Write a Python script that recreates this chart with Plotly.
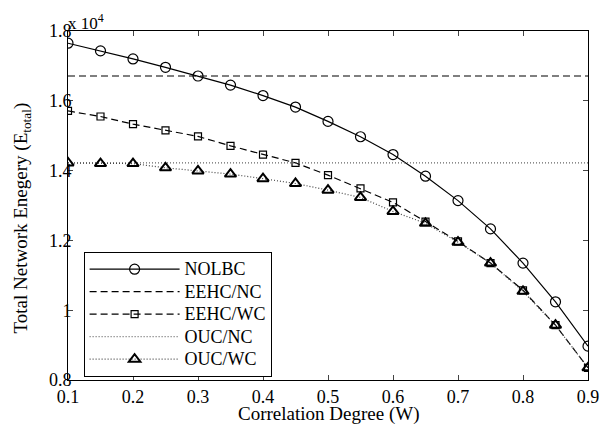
import plotly.graph_objects as go

W = [0.1, 0.15, 0.2, 0.25, 0.3, 0.35, 0.4, 0.45, 0.5, 0.55, 0.6, 0.65, 0.7, 0.75, 0.8, 0.85, 0.9]
nolbc = [17650, 17430, 17200, 16960, 16710, 16450, 16150, 15820, 15410, 14970, 14460, 13840, 13140, 12330, 11350, 10240, 8970]
eehc_nc = [16710] * len(W)
eehc_wc = [15710, 15550, 15330, 15150, 14980, 14710, 14460, 14220, 13870, 13490, 13090, 12540, 11970, 11350, 10570, 9570, 8350]
ouc_nc = [14220] * len(W)
ouc_wc = [14220, 14200, 14200, 14080, 13990, 13900, 13770, 13630, 13440, 13230, 12830, 12490, 11950, 11350, 10540, 9570, 8350]
names = ["NOLBC", "EEHC/NC", "EEHC/WC", "OUC/NC", "OUC/WC"]

y_tickvals = [8000, 10000, 12000, 14000, 16000, 18000]
y_ticktext = ["0.8", "1", "1.2", "1.4", "1.6", "1.8"]
x_tickvals = [0.1, 0.2, 0.3, 0.4, 0.5, 0.6, 0.7, 0.8, 0.9]

FONT = "Times New Roman, Liberation Serif, serif"


def lab(n):
    return '<span style="font-size:18px">' + n + "</span>"


fig = go.Figure()
fig.add_trace(go.Scatter(x=W, y=nolbc, name=lab(names[0]), mode="lines+markers",
                         line=dict(color="black", width=1.2),
                         marker=dict(symbol="circle-open", size=10, color="black", line=dict(width=1.2))))
fig.add_trace(go.Scatter(x=W, y=eehc_nc, name=lab(names[1]), mode="lines",
                         line=dict(color="black", width=1.2, dash="7px,4px")))
fig.add_trace(go.Scatter(x=W, y=eehc_wc, name=lab(names[2]), mode="lines+markers",
                         line=dict(color="black", width=1.2, dash="7px,4px"),
                         marker=dict(symbol="square-open", size=7, color="black", line=dict(width=1.2))))
fig.add_trace(go.Scatter(x=W, y=ouc_nc, name=lab(names[3]), mode="lines",
                         line=dict(color="#666666", width=1.2, dash="1px,2px")))
fig.add_trace(go.Scatter(x=W, y=ouc_wc, name=lab(names[4]), mode="lines+markers",
                         line=dict(color="#444444", width=1.2, dash="1px,2px"),
                         marker=dict(symbol="triangle-up-open", size=10, color="black", line=dict(width=2))))

fig.update_layout(
    width=601, height=424,
    margin=dict(l=68, r=13, t=31, b=44),
    paper_bgcolor="white", plot_bgcolor="white",
    font=dict(family=FONT, size=18, color="black"),
    showlegend=True,
    legend=dict(x=0.03, y=0.367, xanchor="left", yanchor="top",
                bgcolor="white", bordercolor="black", borderwidth=1,
                font=dict(family=FONT, size=15), itemwidth=90,
                tracegroupgap=0),
    xaxis=dict(range=[0.1, 0.9], tickvals=x_tickvals, ticks="inside", ticklen=5,
               showline=True, linecolor="black", linewidth=1, mirror="ticks",
               showgrid=False, zeroline=False, ticklabelstandoff=0, automargin=False,
               tickfont=dict(family=FONT, size=18)),
    yaxis=dict(range=[8000, 18000], tickvals=y_tickvals, ticktext=y_ticktext, ticks="inside", ticklen=5,
               showline=True, linecolor="black", linewidth=1, mirror="ticks",
               showgrid=False, zeroline=False, ticklabelstandoff=-8, automargin=False,
               tickfont=dict(family=FONT, size=18)),
)
fig.add_annotation(text="Correlation Degree (W)", xref="paper", yref="paper", x=0.5, y=-0.097,
                   xanchor="center", yanchor="middle", showarrow=False,
                   font=dict(family=FONT, size=19))
fig.add_annotation(text="Total Network Enegery (E<sub>total</sub>)", xref="paper", yref="paper",
                   x=-0.0885, y=0.4656, xanchor="center", yanchor="middle", textangle=-90,
                   showarrow=False, font=dict(family=FONT, size=19))
fig.add_annotation(text="x 10<sup>4</sup>", xref="paper", yref="paper", x=0.0, y=1.0,
                   xanchor="left", yanchor="bottom", showarrow=False,
                   font=dict(family=FONT, size=17), yshift=-4, xshift=-2)

fig.write_html("out.html")
